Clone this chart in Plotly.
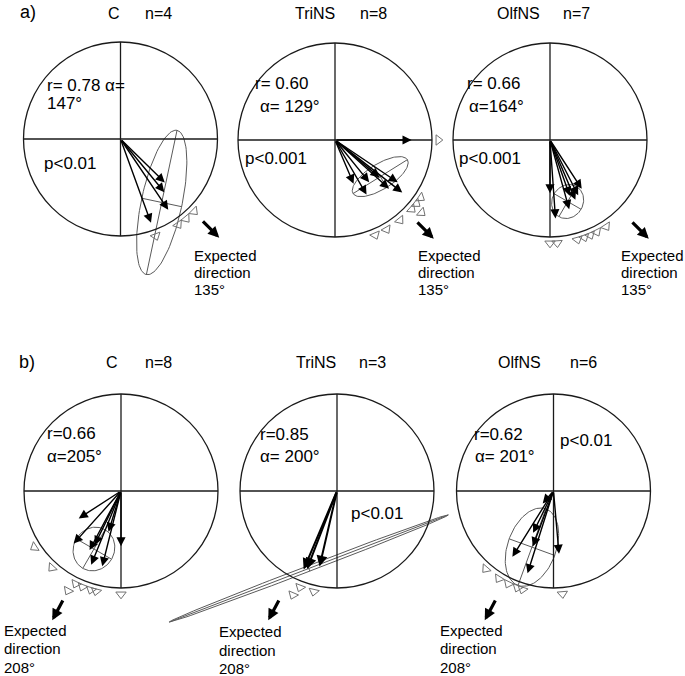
# circular orientation diagrams: individual mean vectors, mean-vector confidence ellipse,
# individual bearings as triangles on the rim and the expected direction

import numpy as np
import plotly.graph_objects as go

# --- DATA ---
titles = ["C", "TriNS", "OlfNS", "C", "TriNS", "OlfNS"]
n_values = [4, 8, 7, 8, 3, 6]
r_values = [0.78, 0.60, 0.66, 0.66, 0.85, 0.62]
alpha_values = [147, 129, 164, 205, 200, 201]
p_labels = ["p<0.01", "p<0.001", "p<0.001", "", "p<0.01", "p<0.01"]
expected_dir = [135, 135, 135, 208, 208, 208]
row_labels = ["a)", "b)"]

# individual bearings (deg clockwise from north) and vector lengths
bearings = [
    [134.5, 140.5, 146, 160],
    [90, 124, 128, 130, 132, 141, 150, 157],
    [180, 176, 164.5, 160.5, 157, 153, 147],
    [237, 222, 208, 206, 202, 197, 194, 180],
    [203, 201, 193],
    [221, 212, 206, 200.5, 197.5, 175],
]
lengths = [
    [0.64, 0.71, 0.88, 0.92],
    [0.79, 0.78, 0.88, 0.60, 0.75, 0.56, 0.65, 0.49],
    [0.55, 0.81, 0.74, 0.61, 0.67, 0.64, 0.60],
    [0.52, 0.73, 0.69, 0.62, 0.82, 0.44, 0.80, 0.57],
    [0.88, 0.86, 0.80],
    [0.17, 0.80, 0.48, 0.61, 0.89, 0.65],
]

# confidence ellipse round the mean vector tip
ell_major = [0.76, 0.33, 0.18, 0.23, 1.54, 0.42]
ell_minor = [0.21, 0.13, 0.16, 0.21, 0.03, 0.25]
ell_tilt = [12, 58, 30, 30, 69, 20]

stat_fmt = [
    ("r= {r} α=", "{a}°"),
    ("r= {r}", "α= {a}°"),
    ("r= {r}", "α={a}°"),
    ("r={r}", "α={a}°"),
    ("r={r}", "α= {a}°"),
    ("r={r}", "α= {a}°"),
]

# --- LAYOUT (page pixels) ---
W, H = 685, 676
R = 97
centers = [(120.5, 139), (335, 140), (550, 140), (121, 491), (337, 491), (553.5, 491)]
title_y = [13, 13, 13, 362, 362, 362]
name_dx = [1.5, 2, -8, -1, 1, -10.5]
n_dx = [22.5, 23, 11, 22, 20, 14.5]
stat_pos = [((-75.5, -54), (-75.5, -36)), ((-82, -57), (-77, -34)), ((-85, -57), (-83, -34)),
            ((-76, -58), (-76, -35)), ((-79, -57), (-79, -35)), ((-81.5, -57), (-80.5, -35))]
p_pos = [(-78.5, 24), (-92, 18), (-93, 18), None, (12, 22), (4.5, -51)]
exp_text_pos = [(71.5, 116), (81, 115), (69, 115), (-119.3, 139), (-120.3, 140.7), (-116, 139)]
exp_spacing = [17, 17, 17, 18.5, 18.5, 18.5]
exp_radii = [(1.18, 1.44)] * 3 + [(1.26, 1.51)] * 3
label_pos = [(18, 12), (17, 362)]

FONT = "Liberation Sans, Arial, sans-serif"


def polar(c, bearing, frac):
    t = np.radians(bearing)
    return c[0] + frac * R * np.sin(t), c[1] - frac * R * np.cos(t)


fig = go.Figure()


def text(x, y, s, size, anchor="left"):
    fig.add_annotation(x=x, y=y, text=s, showarrow=False, xanchor=anchor, yanchor="middle",
                       font=dict(family=FONT, size=size, color="black"))


def arrow(tail, head, width, size, color="black"):
    fig.add_annotation(x=head[0], y=head[1], ax=tail[0], ay=tail[1], xref="x", yref="y",
                       axref="x", ayref="y", text="", showarrow=True, arrowhead=2,
                       arrowsize=size, arrowwidth=width, arrowcolor=color, standoff=0)


for i, c in enumerate(centers):
    cx, cy = c
    # frame: circle + quadrant lines
    fig.add_shape(type="circle", x0=cx - R, x1=cx + R, y0=cy - R, y1=cy + R,
                  line=dict(color="#1a1a1a", width=1.3))
    fig.add_shape(type="line", x0=cx - R, x1=cx + R, y0=cy, y1=cy, line=dict(color="#1a1a1a", width=1.3))
    fig.add_shape(type="line", x0=cx, x1=cx, y0=cy - R, y1=cy + R, line=dict(color="#1a1a1a", width=1.3))

    # ellipse with its two axes
    mx, my = polar(c, alpha_values[i], r_values[i])
    t = np.radians(ell_tilt[i])
    u = np.array([np.sin(t), -np.cos(t)])
    v = np.array([np.cos(t), np.sin(t)])
    s = np.linspace(0, 2 * np.pi, 120)
    a, b = ell_major[i] * R, ell_minor[i] * R
    ex = mx + a * np.cos(s) * u[0] + b * np.sin(s) * v[0]
    ey = my + a * np.cos(s) * u[1] + b * np.sin(s) * v[1]
    xs = list(ex) + [None, mx - a * u[0], mx + a * u[0], None, mx - b * v[0], mx + b * v[0]]
    ys = list(ey) + [None, my - a * u[1], my + a * u[1], None, my - b * v[1], my + b * v[1]]
    fig.add_trace(go.Scatter(x=xs, y=ys, mode="lines", line=dict(color="#5a5a5a", width=1),
                             hoverinfo="skip", showlegend=False))

    # individual vectors
    w = 2.0 if n_values[i] <= 3 else 1.4
    for bea, ln in zip(bearings[i], lengths[i]):
        arrow(c, polar(c, bea, ln), w, 1.3 if w < 2 else 1.1)

    # rim triangles, stacked outward where bearings coincide
    placed = []
    tx, ty, ta = [], [], []
    for bea in sorted(bearings[i]):
        lvl = 0
        while any(l == lvl and abs(p - bea) < 3 for p, l in placed):
            lvl += 1
        placed.append((bea, lvl))
        px, py = polar(c, bea, 1.065 + 0.1 * lvl)
        tx.append(px)
        ty.append(py)
        ta.append(bea)
    fig.add_trace(go.Scatter(x=tx, y=ty, mode="markers", hoverinfo="skip", showlegend=False,
                             marker=dict(symbol="triangle-up-open", size=9, angle=ta,
                                         color="#707070", line=dict(width=1, color="#707070"))))

    # expected direction
    r0, r1 = exp_radii[i]
    arrow(polar(c, expected_dir[i], r0), polar(c, expected_dir[i], r1), 3.2, 0.7)
    ex0, ey0 = exp_text_pos[i]
    for k, line in enumerate(["Expected", "direction", f"{expected_dir[i]}°"]):
        text(cx + ex0, cy + ey0 + k * exp_spacing[i], line, 15)

    # titles and statistics
    text(cx + name_dx[i], title_y[i], titles[i], 16, anchor="right")
    text(cx + n_dx[i], title_y[i], f"n={n_values[i]}", 16)
    f1, f2 = stat_fmt[i]
    (d1x, d1y), (d2x, d2y) = stat_pos[i]
    text(cx + d1x, cy + d1y, f1.format(r=f"{r_values[i]:.2f}", a=alpha_values[i]), 17)
    text(cx + d2x, cy + d2y, f2.format(r=f"{r_values[i]:.2f}", a=alpha_values[i]), 17)
    if p_labels[i]:
        text(cx + p_pos[i][0], cy + p_pos[i][1], p_labels[i], 17)

for lab, (lx, ly) in zip(row_labels, label_pos):
    text(lx, ly, lab, 18)

fig.update_layout(
    width=W, height=H,
    margin=dict(l=0, r=0, t=0, b=0),
    plot_bgcolor="white", paper_bgcolor="white",
    xaxis=dict(range=[0, W], visible=False, fixedrange=True),
    yaxis=dict(range=[H, 0], visible=False, fixedrange=True),
    showlegend=False,
)
# the page's default body margin would push the figure 8px in
fig.write_html("out.html", config={"displayModeBar": False},
               post_script="document.body.style.margin = '0';")
